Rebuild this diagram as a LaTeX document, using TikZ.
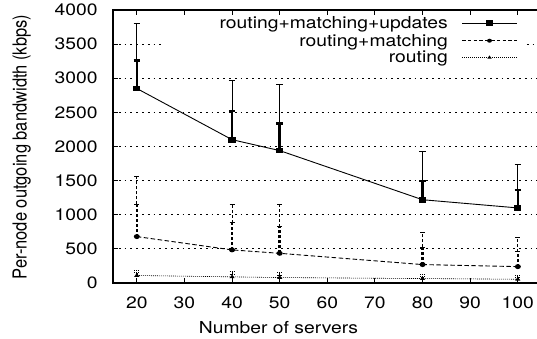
\documentclass[tikz,border=0pt]{standalone}
\usepackage{fontspec}
\usepackage{graphicx}
\setmainfont{TeX Gyre Heros}
\usetikzlibrary{shapes.geometric}
% horizontally widened text, as in the plot's labels
\newcommand\widetxt[1]{\scalebox{1.17}[1]{#1}}
\newcommand\talltxt[1]{\scalebox{1}[1.17]{#1}}
\begin{document}
\begin{tikzpicture}[x=1pt,y=-1pt,
  lbl/.style={font=\fontsize{16.5}{18}\selectfont, inner sep=0pt},
  axisline/.style={line width=1.3pt, line cap=rect},
  tickline/.style={line width=0.9pt},
  gridline/.style={line width=0.8pt, dash pattern=on 1.8pt off 4pt},
  lineU/.style={line width=0.9pt},
  lineM/.style={line width=0.9pt, dash pattern=on 4.5pt off 2.5pt},
  lineR/.style={line width=0.6pt, dash pattern=on 1pt off 1pt},
  thinbar/.style={line width=0.8pt},
  thickbar/.style={line width=2.6pt},
  sqmark/.style={rectangle, fill=black, inner sep=0pt, minimum width=7.3pt, minimum height=5.8pt},
  circmark/.style={ellipse, fill=black, inner sep=0pt, minimum width=6pt, minimum height=5pt},
  trimark/.style={isosceles triangle, isosceles triangle apex angle=70, shape border rotate=90,
    fill=black, inner sep=0pt, minimum width=5pt, minimum height=3.8pt},
  lsq/.style={sqmark},
  lcirc/.style={ellipse, fill=black, inner sep=0pt, minimum width=5pt, minimum height=4pt},
  ltri/.style={trimark, minimum width=4.5pt, minimum height=3.2pt},
]
\clip (0,0) rectangle (537,339);
\fill[white] (0,0) rectangle (537,339);

% ---------- data frame: x from 15 to 105, y from 0 to 4000 ----------
\begin{scope}[shift={(41.56pt,-283pt)}, x=4.7625pt, y=0.06825pt]
  % horizontal grid
  \foreach \v in {500,1000,...,3000}
    \draw[gridline] (15,\v) -- (105,\v);
  \draw[gridline] (15,3500) -- (25.5,3500);
  \draw[gridline] (101.9,3500) -- (105,3500);

  % frame and ticks
  \draw[axisline] (15,0) rectangle (105,4000);
  \foreach \v in {0,500,...,4000} {
    \draw[tickline] (15,\v) -- ++(5pt,0);
    \draw[tickline] (105,\v) -- ++(-5pt,0);
    \node[lbl, anchor=east, xshift=-15.3pt] (ytick\v) at (15,\v) {\widetxt{\v}};
  }
  \foreach \x in {20,30,...,100} {
    \draw[tickline] (\x,0) -- ++(0,5pt);
    \draw[tickline] (\x,4000) -- ++(0,-5pt);
    \node[lbl, anchor=north, yshift=-13.7pt] (xtick\x) at (\x,0) {\widetxt{\x}};
  }

  % routing+matching+updates
  \foreach \x/\m/\a/\b in {20/2850/3260/3810, 40/2100/2520/2970, 50/1940/2340/2910,
                           80/1220/1494/1930, 100/1100/1363/1733} {
    \coordinate (ua\x) at (\x,\a);
    \coordinate (ub\x) at (\x,\b);
    \coordinate (um\x) at (\x,\m);
    \draw[thinbar] (ua\x) -- (ub\x);
    \draw[thinbar] ([xshift=-3.2pt]ub\x) -- ([xshift=3.2pt]ub\x);
    \draw[thickbar] (um\x) -- (ua\x);
    \draw[thickbar] ([xshift=-3.2pt]ua\x) -- ([xshift=3.2pt]ua\x);
  }
  \draw[lineU] (um20) -- (um40) -- (um50) -- (um80) -- (um100);
  \foreach \x in {20,40,50,80,100}
    \node[sqmark] (u\x) at (um\x) {};

  % routing+matching
  \foreach \x/\m/\a/\b in {20/680/1153/1568, 40/485/884/1153, 50/435/825/1153,
                           80/270/523/737, 100/240/459/664} {
    \coordinate (ma\x) at (\x,\a);
    \coordinate (mb\x) at (\x,\b);
    \coordinate (mm\x) at (\x,\m);
    \draw[thinbar, dash pattern=on 3pt off 2pt] (ma\x) -- (mb\x);
    \draw[thinbar] ([xshift=-2.5pt]mb\x) -- ([xshift=2.5pt]mb\x);
    \draw[thickbar, dash pattern=on 3pt off 2pt] (mm\x) -- (ma\x);
    \draw[thickbar, line width=1.6pt] ([xshift=-2.5pt]ma\x) -- ([xshift=2.5pt]ma\x);
  }
  \draw[lineM] (mm20) -- (mm40) -- (mm50) -- (mm80) -- (mm100);
  \foreach \x in {20,40,50,80,100}
    \node[circmark] (m\x) at (mm\x) {};

  % routing
  \foreach \x/\m/\a/\b in {20/110/150/185, 40/90/125/165, 50/80/115/150,
                           80/65/95/125, 100/55/85/110} {
    \coordinate (ra\x) at (\x,\a);
    \coordinate (rb\x) at (\x,\b);
    \coordinate (rm\x) at (\x,\m);
    \draw[thinbar, dash pattern=on 1pt off 1pt] (ra\x) -- (rb\x);
    \draw[thinbar, dash pattern=on 1pt off 1pt] ([xshift=-2.5pt]rb\x) -- ([xshift=2.5pt]rb\x);
    \draw[thickbar, dash pattern=on 1pt off 1pt] (rm\x) -- (ra\x);
    \draw[thinbar, dash pattern=on 1pt off 1pt] ([xshift=-2.5pt]ra\x) -- ([xshift=2.5pt]ra\x);
  }
  \draw[lineR] (rm20) -- (rm40) -- (rm50) -- (rm80) -- (rm100);
  \foreach \x in {20,40,50,80,100}
    \node[trimark] (r\x) at (rm\x) {};
\end{scope}

% ---------- legend ----------
\node[lbl, anchor=base east] (leg1) at (448,29) {\widetxt{routing+matching+updates}};
\node[lbl, anchor=base east] (leg2) at (448,46.3) {\widetxt{routing+matching}};
\node[lbl, anchor=base east] (leg3) at (448,63) {\widetxt{routing}};
\coordinate (k1a) at (462,23.3); \coordinate (k1b) at (517,23.3);
\coordinate (k2a) at (462,40.7); \coordinate (k2b) at (517,40.7);
\coordinate (k3a) at (462,57.5); \coordinate (k3b) at (517,57.5);
\draw[lineU] (k1a) -- (k1b);
\draw[lineM, line width=0.8pt, dash pattern=on 3.5pt off 2.3pt] (k2a) -- (k2b);
\draw[lineR] (k3a) -- (k3b);
\node[lsq] (k1) at (489.5,23.3) {};
\node[lcirc] (k2) at (489.5,40.7) {};
\node[ltri] (k3) at (489.5,57.5) {};

% ---------- axis titles ----------
\node[lbl, anchor=base] (xtitle) at (278.5,333.3) {\widetxt{Number of servers}};
\node[lbl, anchor=base, rotate=90] (ytitle) at (26.7,147) {\talltxt{Per-node outgoing bandwidth (kbps)}};
\end{tikzpicture}
\end{document}
